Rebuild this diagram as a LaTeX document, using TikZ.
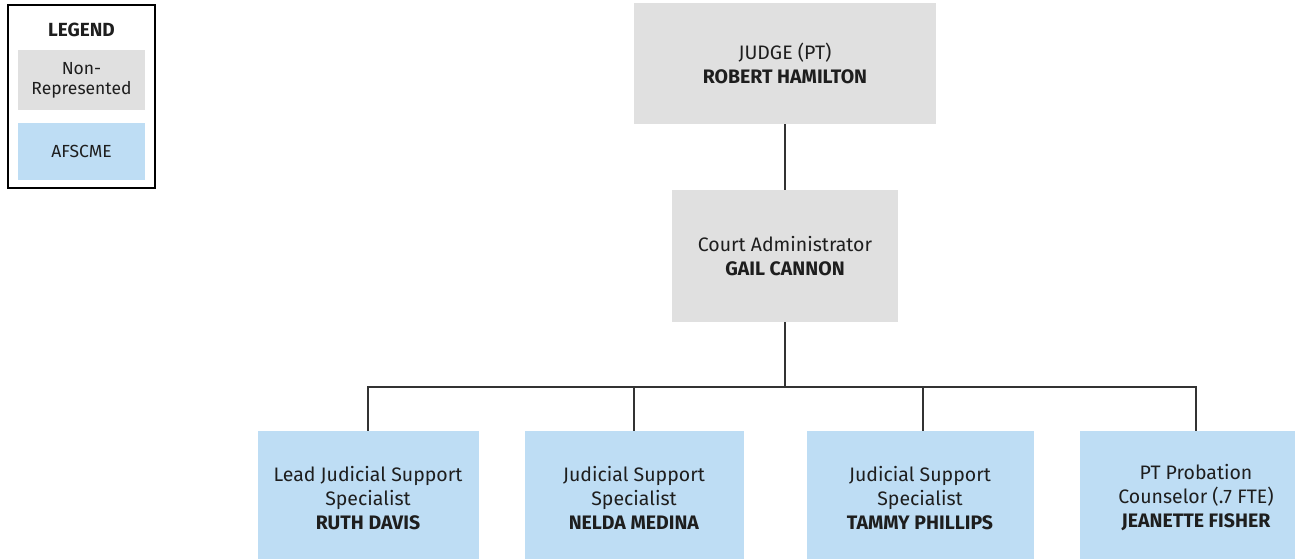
\documentclass[tikz,border=0pt]{standalone}
\usepackage{fontspec}
\setmainfont{Fira Sans}
\definecolor{nrgray}{HTML}{E0E0E0}
\definecolor{afblue}{HTML}{BEDDF4}
\definecolor{txt}{HTML}{1E1E1E}
\definecolor{ln}{HTML}{333333}
\begin{document}
\begin{tikzpicture}[x=1pt,y=-1pt,
  box/.style={anchor=center,inner sep=0pt,align=center,text=txt,font=\fontsize{19.5}{24}\selectfont},
  grayb/.style={box,fill=nrgray},
  blueb/.style={box,fill=afblue},
  conn/.style={draw=ln,line width=1.4pt}]
\useasboundingbox (0,0) rectangle (1295,558);
\clip (0,0) rectangle (1295,558);
\fill[white] (0,0) rectangle (1295,558);
% legend
\node[draw=black,line width=1.8pt,minimum width=147pt,minimum height=183pt,inner sep=0pt] (leg) at (81.5,96.5) {};
\node[box,font=\fontsize{19}{22}\selectfont\bfseries] (legt) at (81.5,30) {LEGEND};
\node[grayb,minimum width=127pt,minimum height=60pt,font=\fontsize{17.5}{20}\selectfont] (legnr) at (81.5,80) {Non-\\Represented};
\node[blueb,minimum width=127pt,minimum height=57pt,font=\fontsize{17.5}{20}\selectfont] (legaf) at (81.5,151.5) {AFSCME};
% top
\node[grayb,minimum width=302pt,minimum height=121pt] (judge) at (785,63.5) {JUDGE (PT)\\\textbf{ROBERT HAMILTON}};
\node[grayb,minimum width=226pt,minimum height=132pt] (ca) at (785,256) {Court Administrator\\\textbf{GAIL CANNON}};
% bottom
\node[blueb,minimum width=221pt,minimum height=134pt] (b1) at (368,498) {Lead Judicial Support\\Specialist\\\textbf{RUTH DAVIS}};
\node[blueb,minimum width=219pt,minimum height=134pt] (b2) at (634,498) {Judicial Support\\Specialist\\\textbf{NELDA MEDINA}};
\node[blueb,minimum width=227pt,minimum height=134pt] (b3) at (920,498) {Judicial Support\\Specialist\\\textbf{TAMMY PHILLIPS}};
\node[blueb,minimum width=232pt,minimum height=134pt] (b4) at (1196,498) {PT Probation\\Counselor (.7 FTE)\\\textbf{JEANETTE FISHER}};
% connectors
\coordinate (bus) at (785,387);
\draw[conn] (judge.south) -- (ca.north);
\draw[conn] (ca.south) -- (bus);
\draw[conn] (b1.north) |- (bus);
\draw[conn] (b4.north) |- (bus);
\draw[conn] (b2.north) -- (b2.north |- bus);
\draw[conn] ([xshift=3pt]b3.north) -- ([xshift=3pt]b3.north |- bus);
\end{tikzpicture}
\end{document}
